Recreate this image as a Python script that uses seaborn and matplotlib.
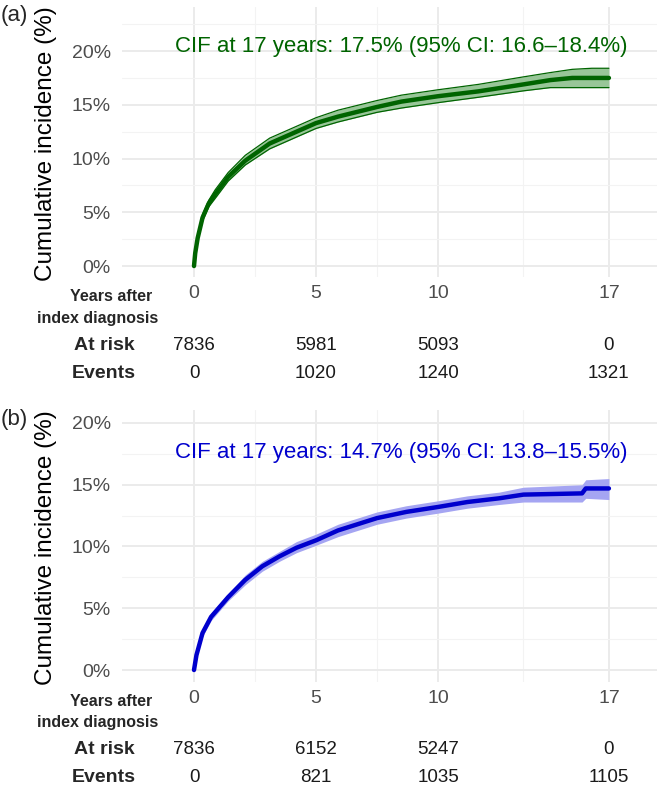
import matplotlib
matplotlib.use("Agg")
import matplotlib.pyplot as plt
import matplotlib.transforms as mtransforms
from matplotlib.ticker import FixedLocator, FuncFormatter
import seaborn as sns
import pandas as pd

# ---- data ----
time_a = [0, 0.05, 0.15, 0.35, 0.6, 0.87, 1.4, 2.1, 3.1, 4.2, 5.0, 5.9, 7.5, 8.5,
          10.0, 11.65, 13.5, 14.6, 15.5, 16.3, 17.0]
cif_a = [0, 1.2, 2.6, 4.5, 5.8, 6.7, 8.3, 9.8, 11.4, 12.5, 13.3, 13.9, 14.8, 15.3,
         15.8, 16.25, 16.9, 17.3, 17.5, 17.5, 17.5]
lo_a = [0, 1.1, 2.4, 4.2, 5.5, 6.3, 7.9, 9.4, 10.9, 12.0, 12.8, 13.4, 14.3, 14.7,
        15.2, 15.7, 16.3, 16.6, 16.6, 16.6, 16.6]
hi_a = [0, 1.3, 2.8, 4.8, 6.1, 7.1, 8.7, 10.3, 11.9, 13.0, 13.8, 14.5, 15.4, 15.9,
        16.4, 16.9, 17.6, 18.0, 18.3, 18.4, 18.4]

time_b = [0, 0.1, 0.35, 0.7, 1.4, 2.1, 2.8, 3.5, 4.2, 5.0, 5.9, 6.7, 7.5, 8.7,
          10.0, 11.2, 12.5, 13.5, 15.9, 16.05, 17.0]
cif_b = [0, 1.2, 3.0, 4.3, 5.9, 7.3, 8.4, 9.2, 9.9, 10.5, 11.3, 11.8, 12.3, 12.8,
         13.2, 13.6, 13.9, 14.2, 14.3, 14.7, 14.7]
lo_b = [0, 1.0, 2.7, 4.0, 5.6, 6.9, 8.0, 8.8, 9.5, 10.1, 10.8, 11.3, 11.8, 12.3,
        12.7, 13.1, 13.4, 13.6, 13.6, 13.9, 13.8]
hi_b = [0, 1.4, 3.3, 4.6, 6.2, 7.7, 8.8, 9.6, 10.4, 11.0, 11.8, 12.3, 12.8, 13.3,
        13.7, 14.1, 14.4, 14.8, 15.0, 15.4, 15.5]

tick_years = [0, 5, 10, 17]
at_risk_a = [7836, 5981, 5093, 0]
events_a = [0, 1020, 1240, 1321]
at_risk_b = [7836, 6152, 5247, 0]
events_b = [0, 821, 1035, 1105]

label_a = "CIF at 17 years: 17.5% (95% CI: 16.6\u201318.4%)"
label_b = "CIF at 17 years: 14.7% (95% CI: 13.8\u201315.5%)"

sns.set_theme(style="white")
plt.rcParams['font.family'] = ['Liberation Sans', 'DejaVu Sans']

W, H = 665, 798
fig = plt.figure(figsize=(W / 100, H / 100), dpi=100)


def fy(px):
    return 1 - px / H


def draw_panel(top, bottom, ylim, t, cif, lo, hi, color, band, edges,
               note, note_y, risk, events, rows, tag):
    ax = fig.add_axes([122 / W, fy(bottom), (657 - 122) / W, (bottom - top) / H])
    ax.set_facecolor('white')
    for s in ax.spines.values():
        s.set_visible(False)
    ax.set_xlim(-2.95, 18.97)
    ax.set_ylim(*ylim)

    # grid like theme_minimal
    ax.xaxis.set_major_locator(FixedLocator(tick_years))
    ax.xaxis.set_minor_locator(FixedLocator([2.5, 7.5, 13.5]))
    ax.yaxis.set_major_locator(FixedLocator([0, 5, 10, 15, 20]))
    ax.yaxis.set_minor_locator(FixedLocator([2.5, 7.5, 12.5, 17.5, 22.5]))
    ax.grid(True, which='major', color='#EBEBEB', linewidth=1.4)
    ax.grid(True, which='minor', color='#F3F3F3', linewidth=0.8)
    ax.set_axisbelow(True)
    ax.tick_params(which='both', length=0)
    ax.tick_params(axis='y', pad=8, labelsize=14, labelcolor='#4D4D4D')
    ax.tick_params(axis='x', pad=6, labelsize=14, labelcolor='#4D4D4D')
    ax.yaxis.set_major_formatter(FuncFormatter(lambda v, p: f"{v:.0f}%"))

    df = pd.DataFrame({'t': t, 'cif': cif, 'lo': lo, 'hi': hi})
    ax.fill_between(df['t'], df['lo'], df['hi'], color=band, linewidth=0)
    if edges:
        sns.lineplot(data=df, x='t', y='lo', ax=ax, color=color, linewidth=0.9)
        sns.lineplot(data=df, x='t', y='hi', ax=ax, color=color, linewidth=0.9)
    sns.lineplot(data=df, x='t', y='cif', ax=ax, color=color, linewidth=3.2)
    ax.set_xlabel('')
    ax.set_ylabel('Cumulative incidence (%)', fontsize=17.5, color='black')

    ax.text(8.5, note_y, note, ha='center', va='center', color=color,
            fontsize=16)

    # risk table below the panel
    tr = mtransforms.blended_transform_factory(ax.transData, fig.transFigure)
    y_tick, y_idx, y_risk, y_ev = rows
    fig.text(152 / W, fy(y_tick), 'Years after', ha='right', va='center',
             fontsize=11.5, fontweight='bold')
    fig.text(158 / W, fy(y_idx), 'index diagnosis', ha='right', va='center',
             fontsize=11.5, fontweight='bold')
    fig.text(104 / W, fy(y_risk), 'At risk', ha='center', va='center',
             fontsize=14, fontweight='bold')
    fig.text(104 / W, fy(y_ev), 'Events', ha='center', va='center',
             fontsize=14, fontweight='bold')
    for x, r, e in zip(tick_years, risk, events):
        ax.text(x, fy(y_risk), f"{r}", transform=tr, ha='center', va='center',
                fontsize=13.5, color='#1a1a1a')
        ax.text(x, fy(y_ev), f"{e}", transform=tr, ha='center', va='center',
                fontsize=13.5, color='#1a1a1a')
    fig.text(1 / W, fy(top + 9), tag, ha='left', va='center', fontsize=16)
    return ax


ax_a = draw_panel(7, 277, (-1.02, 24.1), time_a, cif_a, lo_a, hi_a,
                  '#006400', '#98C698', True, label_a, 20.4,
                  at_risk_a, events_a, (297, 319, 346, 373), '(a)')
ax_b = draw_panel(410, 682, (-0.97, 21.05), time_b, cif_b, lo_b, hi_b,
                  '#0000CD', '#A5A5F2', False, label_b, 17.6,
                  at_risk_b, events_b, (702, 723, 750, 777), '(b)')

for ax, yc in ((ax_a, 144), (ax_b, 548)):
    ax.yaxis.set_label_coords(57 / W, fy(yc), transform=fig.transFigure)

fig.savefig('out.png', dpi=100, facecolor='white')
